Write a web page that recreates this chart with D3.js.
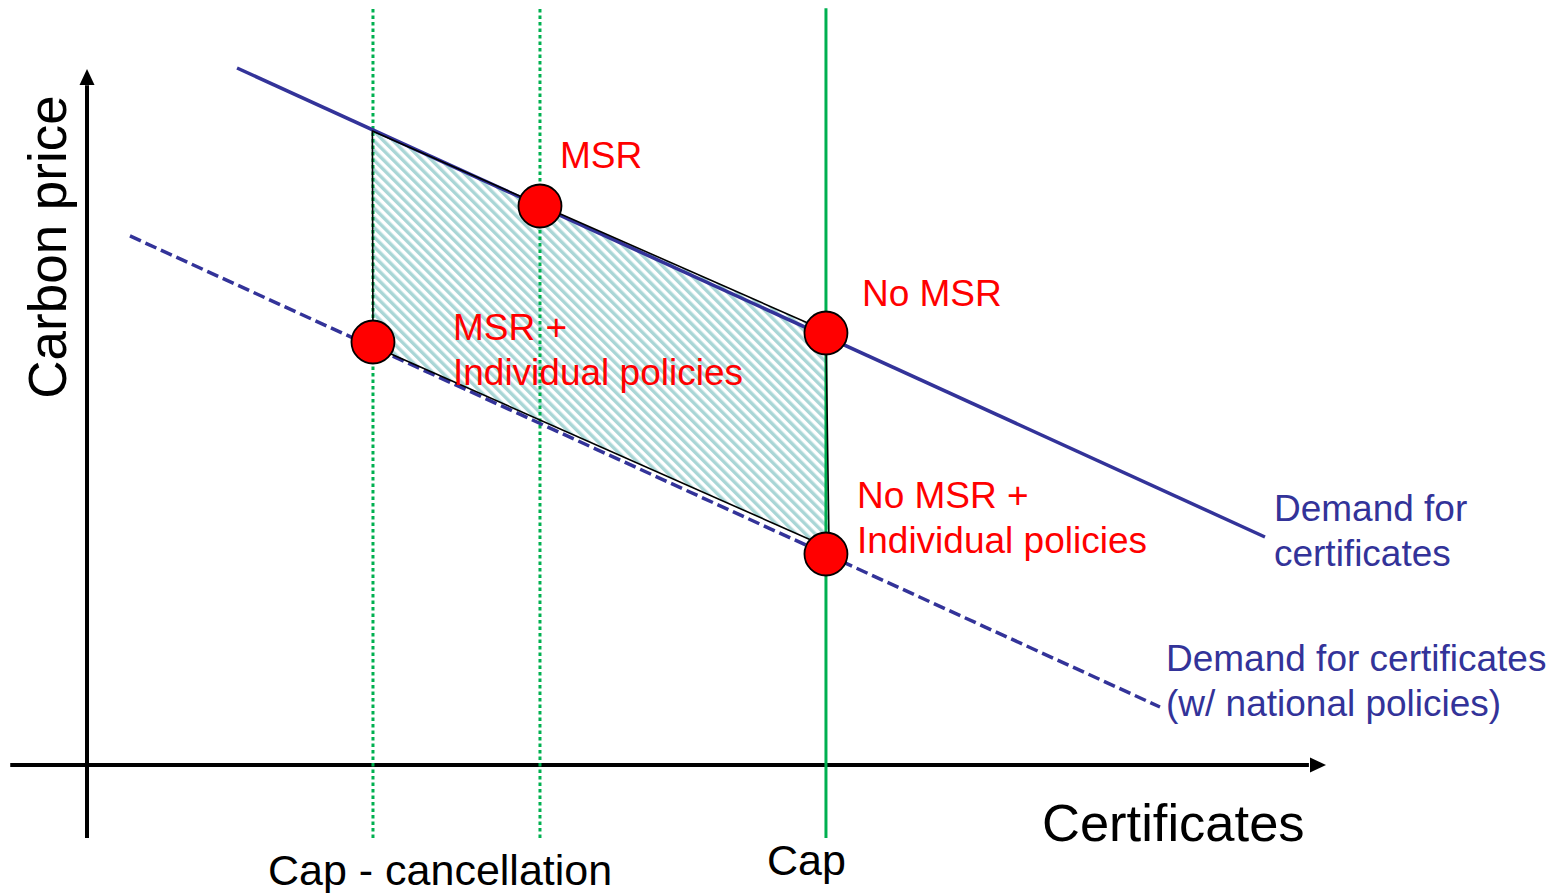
<!DOCTYPE html>
<html>
<head>
<meta charset="utf-8">
<script src="https://cdn.jsdelivr.net/npm/d3@7"></script>
<style>
  html, body { margin: 0; padding: 0; background: #ffffff; }
  svg { display: block; }
  text { font-family: "Liberation Sans", Arial, sans-serif; }
</style>
</head>
<body>
<svg id="chart" width="1564" height="893"></svg>
<script>
// ---------- data (certificates q, carbon price p) ----------
const axisTitles = { x: "Certificates", y: "Carbon price" };
const xAxisExtent = [-6.2, 100];
const yAxisExtent = [-10.5, 100];

const demandCurve = [ { q: 12.12, p: 100.29 }, { q: 95.15, p: 32.81 } ];
const demandCurveLabel = ["Demand for", "certificates"];
const demandNational = [ { q: 3.47, p: 76.12 }, { q: 86.67, p: 8.35 } ];
const demandNationalLabel = ["Demand for certificates", "(w/ national policies)"];

const supplyLevels = [
  { q: 23.10, kind: "dotted", label: "Cap - cancellation" },
  { q: 36.59, kind: "dotted", label: "" },
  { q: 59.69, kind: "solid",  label: "Cap" }
];
const supplyRange = [-10.5, 108.9];

const equilibria = [
  { id: "msr",     q: 36.59, p: 80.43, lines: ["MSR"] },
  { id: "nomsr",   q: 59.69, p: 62.16, lines: ["No MSR"] },
  { id: "msrind",  q: 23.10, p: 60.86, lines: ["MSR +", "Individual policies"] },
  { id: "nomsrind",q: 59.69, p: 30.36, lines: ["No MSR +", "Individual policies"] }
];

const shadedArea = [
  { q: 23.05, p: 91.22 },
  { q: 59.69, p: 62.45 },
  { q: 59.94, p: 31.22 },
  { q: 23.10, p: 60.29 }
];

// ---------- styling / layout ----------
const navy = "#333399", red = "#FF0000", green = "#00B050";
const labelOffset = {            // pixel offsets of the red labels from their point
  msr:      { dx: 20, dy: -38 },
  nomsr:    { dx: 36, dy: -27 },
  msrind:   { dx: 80, dy: -2 },
  nomsrind: { dx: 31, dy: -46 }
};
const supplyLabelPos = { "Cap - cancellation": { dx: -105, y: 885 }, "Cap": { dx: -59, y: 875 } };

const svg = d3.select("#chart");
const x = d3.scaleLinear().domain([0, 100]).range([87, 1325]);
const y = d3.scaleLinear().domain([0, 100]).range([765, 70]);
const line = d3.line().x(d => x(d.q)).y(d => y(d.p));

// hatch pattern
const defs = svg.append("defs");
const pat = defs.append("pattern")
  .attr("id", "hatch").attr("patternUnits", "userSpaceOnUse")
  .attr("width", 6.8).attr("height", 6.8)
  .attr("patternTransform", "rotate(-45)");
pat.append("rect").attr("width", 6.8).attr("height", 6.8).attr("fill", "#ffffff");
pat.append("rect").attr("width", 3.4).attr("height", 6.8).attr("fill", "#A9D6D6");

// axes
const axisG = svg.append("g");
axisG.append("path")
  .attr("d", line([{ q: 0, p: yAxisExtent[0] }, { q: 0, p: yAxisExtent[1] - 2.2 }]))
  .attr("stroke", "#000").attr("stroke-width", 4).attr("fill", "none");
axisG.append("path")
  .attr("d", line([{ q: xAxisExtent[0], p: 0 }, { q: xAxisExtent[1] - 1.3, p: 0 }]))
  .attr("stroke", "#000").attr("stroke-width", 4).attr("fill", "none");
// arrow heads
const yTipX = x(0), yTipY = y(yAxisExtent[1]);
axisG.append("path")
  .attr("d", `M${yTipX},${yTipY - 1} L${yTipX - 7.5},${yTipY + 15} L${yTipX + 7.5},${yTipY + 15} Z`)
  .attr("fill", "#000");
const xTipX = x(xAxisExtent[1]), xTipY = y(0);
axisG.append("path")
  .attr("d", `M${xTipX + 1},${xTipY} L${xTipX - 15},${xTipY - 7.5} L${xTipX - 15},${xTipY + 7.5} Z`)
  .attr("fill", "#000");

// shaded area fill
svg.append("path")
  .attr("d", line(shadedArea) + "Z")
  .attr("fill", "url(#hatch)").attr("stroke", "none");

// supply verticals
svg.append("g").selectAll("path").data(supplyLevels).join("path")
  .attr("d", d => line([{ q: d.q, p: supplyRange[0] }, { q: d.q, p: supplyRange[1] }]))
  .attr("stroke", green)
  .attr("stroke-width", 3)
  .attr("stroke-dasharray", d => d.kind === "dotted" ? "3.5,3" : null)
  .attr("fill", "none");

// demand curves
svg.append("path").attr("d", line(demandCurve))
  .attr("stroke", navy).attr("stroke-width", 3.5).attr("fill", "none");
svg.append("path").attr("d", line(demandNational))
  .attr("stroke", navy).attr("stroke-width", 3.5).attr("fill", "none")
  .attr("stroke-dasharray", "12,5");

// shaded area outline
svg.append("path")
  .attr("d", line(shadedArea) + "Z")
  .attr("fill", "none").attr("stroke", "#000").attr("stroke-width", 1.6)
  .attr("stroke-linejoin", "round");

// equilibrium points
svg.append("g").selectAll("circle").data(equilibria).join("circle")
  .attr("cx", d => x(d.q)).attr("cy", d => y(d.p)).attr("r", 21.5)
  .attr("fill", red).attr("stroke", "#000").attr("stroke-width", 1.8);

// red labels
const lbl = svg.append("g").selectAll("text").data(equilibria).join("text")
  .attr("x", d => x(d.q) + labelOffset[d.id].dx)
  .attr("y", d => y(d.p) + labelOffset[d.id].dy)
  .attr("fill", red).attr("font-size", 37);
lbl.selectAll("tspan").data(d => d.lines.map(t => ({ t, d }))).join("tspan")
  .attr("x", o => x(o.d.q) + labelOffset[o.d.id].dx)
  .attr("dy", (o, i) => i === 0 ? 0 : 45)
  .text(o => o.t);

// demand curve labels
function multiline(lines, px, py, color) {
  const t = svg.append("text").attr("x", px).attr("y", py).attr("fill", color).attr("font-size", 37);
  lines.forEach((s, i) => t.append("tspan").attr("x", px).attr("dy", i === 0 ? 0 : 45).text(s));
}
multiline(demandCurveLabel, x(demandCurve[1].q) + 9, y(demandCurve[1].p) - 16, navy);
multiline(demandNationalLabel, x(demandNational[1].q) + 6, y(demandNational[1].p) - 36, navy);

// supply labels
svg.append("g").selectAll("text").data(supplyLevels.filter(d => d.label)).join("text")
  .attr("x", d => x(d.q) + supplyLabelPos[d.label].dx)
  .attr("y", d => supplyLabelPos[d.label].y)
  .attr("font-size", 43).attr("fill", "#000")
  .text(d => d.label);

// axis titles
svg.append("text")
  .attr("x", 1042).attr("y", 841)
  .attr("font-size", 52.5).attr("fill", "#000")
  .text(axisTitles.x);
svg.append("text")
  .attr("transform", "translate(66,247) rotate(-90)")
  .attr("text-anchor", "middle")
  .attr("font-size", 53).attr("fill", "#000")
  .text(axisTitles.y);
</script>
</body>
</html>
